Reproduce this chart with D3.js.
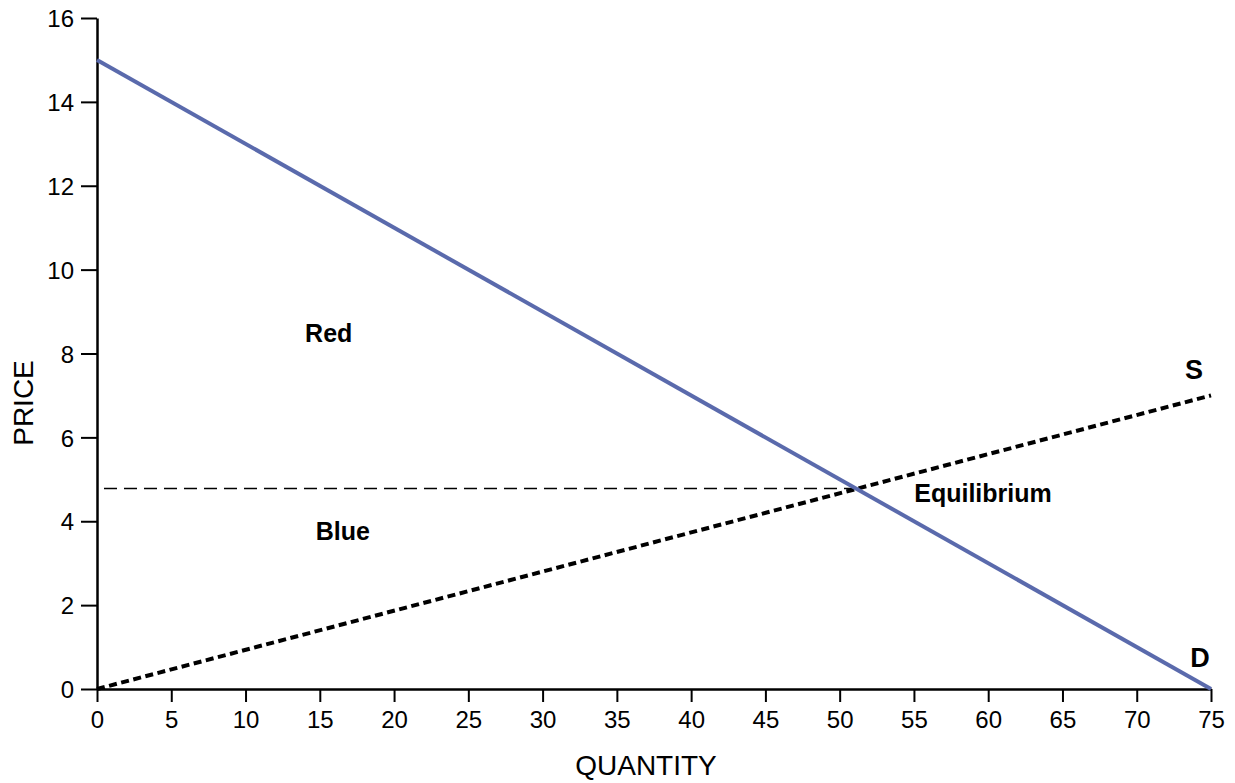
<!DOCTYPE html>
<html><head><meta charset="utf-8">
<script src="https://cdn.jsdelivr.net/npm/d3@7"></script>
<style>body{margin:0;background:#fff}text{font-family:"Liberation Sans",Arial,Helvetica,sans-serif}</style>
</head><body>
<svg id="c" width="1235" height="783"></svg>
<script>
const xTicks = [0,5,10,15,20,25,30,35,40,45,50,55,60,65,70,75];
const yTicks = [0,2,4,6,8,10,12,14,16];
const demand = [{q:0,p:15},{q:75,p:0}];
const supply = [{q:0,p:0},{q:75,p:7}];
const equilibrium = {q:51.1, p:4.78};
const labels = [
  {text:"Red", q:15.6, p:8.27, size:25},
  {text:"Blue", q:16.55, p:3.55, size:25},
  {text:"Equilibrium", q:59.65, p:4.46, size:25},
  {text:"S", q:73.86, p:7.39, size:27},
  {text:"D", q:74.26, p:0.525, size:27}
];

const svg = d3.select("#c");
const x = d3.scaleLinear().domain([0,75]).range([97,1211]);
const y = d3.scaleLinear().domain([0,16]).range([689,18]);

// axes
const xAxis = d3.axisBottom(x).tickValues(xTicks).tickSize(13).tickSizeOuter(0).tickPadding(9);
const gx = svg.append("g").attr("transform",`translate(0,${y(0)})`).call(xAxis);
const yAxis = d3.axisLeft(y).tickValues(yTicks).tickSize(16).tickSizeOuter(0).tickPadding(7);
const gy = svg.append("g").attr("transform",`translate(${x(0)},0)`).call(yAxis);
[gx,gy].forEach(g=>{
  g.attr("font-size",null).attr("font-family",null);
  g.select(".domain").attr("stroke","#000").attr("stroke-width",2.5);
  g.selectAll(".tick line").attr("stroke","#000").attr("stroke-width",2);
  g.selectAll(".tick text").attr("fill","#000").style("font-size","24px");
});
gx.selectAll(".tick text").attr("dy","0.71em");
gy.selectAll(".tick text").attr("dy","0.36em");

// equilibrium price dashed line
svg.append("line")
  .attr("x1",x(0)+7).attr("x2",x(equilibrium.q))
  .attr("y1",y(equilibrium.p)).attr("y2",y(equilibrium.p))
  .attr("stroke","#000").attr("stroke-width",1.5).attr("stroke-dasharray","13,7");

const line = d3.line().x(d=>x(d.q)).y(d=>y(d.p));
svg.append("path").datum(supply).attr("d",line).attr("fill","none")
  .attr("stroke","#000").attr("stroke-width",4).attr("stroke-dasharray","8,4.5");
svg.append("path").datum(demand).attr("d",line).attr("fill","none")
  .attr("stroke","#5a6aac").attr("stroke-width",4);

// labels
svg.selectAll("text.lbl").data(labels).enter().append("text").attr("class","lbl")
  .attr("x",d=>x(d.q)).attr("y",d=>y(d.p)).attr("text-anchor","middle")
  .attr("font-weight","bold").style("font-size",d=>d.size+"px").text(d=>d.text);

// axis titles
svg.append("text").attr("x",646).attr("y",775).attr("text-anchor","middle")
  .style("font-size","28px").text("QUANTITY");
svg.append("text").attr("transform","translate(33,403) rotate(-90)").attr("text-anchor","middle")
  .style("font-size","28px").text("PRICE");
</script>
</body></html>
